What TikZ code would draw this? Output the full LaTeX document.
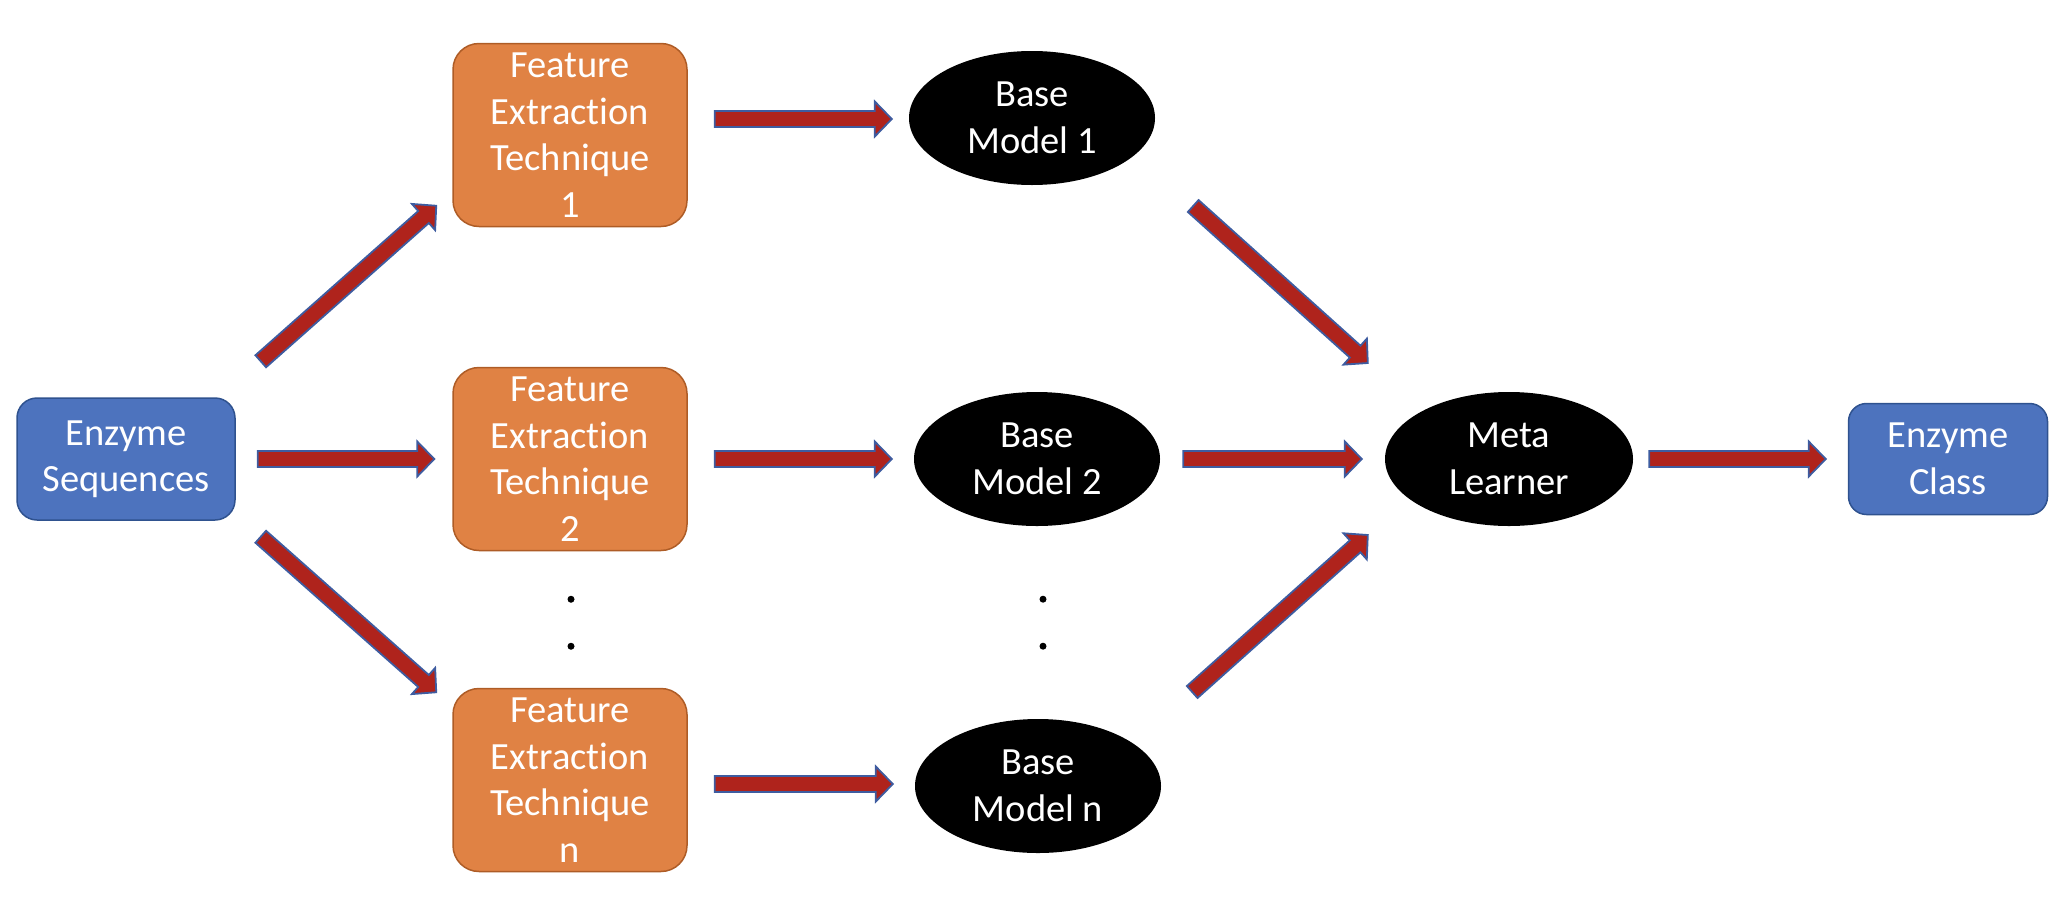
\documentclass[tikz,border=0pt]{standalone}
\usepackage{fontspec}
\setmainfont{Carlito}[Ligatures={NoCommon}]
\usetikzlibrary{shapes.geometric,calc}
\definecolor{arrred}{RGB}{175,35,28}
\definecolor{arrblue}{RGB}{62,92,160}
\definecolor{orgfill}{RGB}{224,130,68}
\definecolor{orgline}{RGB}{174,92,38}
\definecolor{bluefill}{RGB}{77,115,190}
\definecolor{blueline}{RGB}{47,82,143}
\tikzset{
  lbl/.style={font=\fontsize{38.5}{46.5}\selectfont, text=white, align=center, inner sep=0pt},
  bluebox/.style={lbl, draw=blueline, fill=bluefill, line width=1.5pt, rounded corners=20pt},
  orgbox/.style={lbl, draw=orgline, fill=orgfill, line width=1.5pt, rounded corners=26pt,
    minimum width=234pt, minimum height=183pt},
  model/.style={lbl, ellipse, fill=black, minimum width=246pt, minimum height=134pt},
  barrow/.style={fill=arrred, draw=arrblue, line width=1.8pt, line join=miter},
  dotmark/.style={circle, fill=black, inner sep=0pt, minimum size=7pt}
}
\newcommand\blockarrow[2]{%
  \coordinate (bah) at ($(#2)!17pt!(#1)$);
  \filldraw[barrow] ($(#1)!8pt!90:(#2)$) -- ($(bah)!8pt!90:(#2)$) -- ($(bah)!17.5pt!90:(#2)$)
    -- (#2) -- ($(bah)!17.5pt!-90:(#2)$) -- ($(bah)!8pt!-90:(#2)$) -- ($(#1)!8pt!-90:(#2)$) -- cycle;
}
\begin{document}
\begin{tikzpicture}[x=1pt, y=-1pt]
\useasboundingbox (0,0) rectangle (2063,916);
% nodes
\node[bluebox, minimum width=218pt, minimum height=122pt] (es) at (126,459) {Enzyme\\Sequences};
\node[orgbox] (fe1) at (570,135) {Feature\\Extraction\\Technique\\1};
\node[orgbox] (fe2) at (570,459) {Feature\\Extraction\\Technique\\2};
\node[orgbox] (fen) at (570,780) {Feature\\Extraction\\Technique\\n};
\node[model] (b1) at (1032,118) {Base\\Model 1};
\node[model] (b2) at (1037,459) {Base\\Model 2};
\node[model] (bn) at (1038,786) {Base\\Model n};
\node[model, minimum width=248pt] (meta) at (1509,459) {Meta\\Learner};
\node[bluebox, minimum width=199pt, minimum height=111pt, rounded corners=18pt] (cls) at (1948,459) {Enzyme\\Class};
% dots
\node[dotmark] (d1) at ($(fe2.south)+(1,48)$) {};
\node[dotmark] (d2) at ($(fe2.south)+(1,95)$) {};
\node[dotmark] (d3) at ($(b2.south)+(6,73)$) {};
\node[dotmark] (d4) at ($(b2.south)+(6,120)$) {};
% connector end points
\coordinate (s0) at ($(es.east)+(22,0)$);
\coordinate (e0) at ($(fe2.west)+(-18,0)$);
\coordinate (s1) at ($(es.north east)+(25,-36)$);
\coordinate (e1) at ($(fe1.south west)+(-16,-21.5)$);
\coordinate (s2) at ($(es.south east)+(25,16)$);
\coordinate (e2) at ($(fen.north west)+(-16,4.5)$);
\coordinate (s3) at ($(fe1.east)+(27,-16)$);
\coordinate (e3) at ($(b1.west)+(-17,1)$);
\coordinate (s4) at ($(fe2.east)+(27,0)$);
\coordinate (e4) at ($(b2.west)+(-22,0)$);
\coordinate (s5) at ($(fen.east)+(27,4)$);
\coordinate (e5) at ($(bn.west)+(-22,-2)$);
\coordinate (s6) at ($(b1.east)+(38,88)$);
\coordinate (e6) at ($(meta.west)+(-17,-96)$);
\coordinate (s7) at ($(b2.east)+(23,0)$);
\coordinate (e7) at ($(meta.west)+(-23,0)$);
\coordinate (s8) at ($(bn.east)+(31,-94)$);
\coordinate (e8) at ($(meta.west)+(-17,76)$);
\coordinate (s9) at ($(meta.east)+(16,0)$);
\coordinate (e9) at ($(cls.west)+(-22,0)$);
% block arrows
\blockarrow{s0}{e0}
\blockarrow{s1}{e1}
\blockarrow{s2}{e2}
\blockarrow{s3}{e3}
\blockarrow{s4}{e4}
\blockarrow{s5}{e5}
\blockarrow{s6}{e6}
\blockarrow{s7}{e7}
\blockarrow{s8}{e8}
\blockarrow{s9}{e9}
\end{tikzpicture}
\end{document}
